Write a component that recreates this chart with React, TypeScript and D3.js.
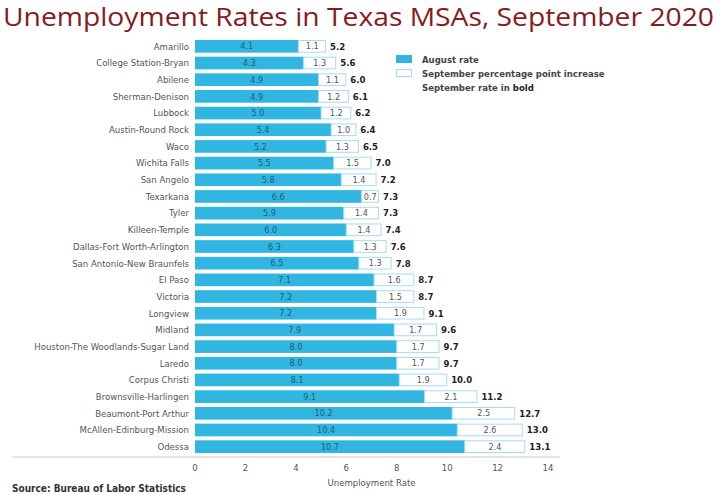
import React from "react";
import * as d3 from "d3";

const categories = [
  "Amarillo",
  "College Station-Bryan",
  "Abilene",
  "Sherman-Denison",
  "Lubbock",
  "Austin-Round Rock",
  "Waco",
  "Wichita Falls",
  "San Angelo",
  "Texarkana",
  "Tyler",
  "Killeen-Temple",
  "Dallas-Fort Worth-Arlington",
  "San Antonio-New Braunfels",
  "El Paso",
  "Victoria",
  "Longview",
  "Midland",
  "Houston-The Woodlands-Sugar Land",
  "Laredo",
  "Corpus Christi",
  "Brownsville-Harlingen",
  "Beaumont-Port Arthur",
  "McAllen-Edinburg-Mission",
  "Odessa",
];

const augustRate = [4.1, 4.3, 4.9, 4.9, 5.0, 5.4, 5.2, 5.5, 5.8, 6.6, 5.9, 6.0, 6.3, 6.5, 7.1, 7.2, 7.2, 7.9, 8.0, 8.0, 8.1, 9.1, 10.2, 10.4, 10.7];
const septIncrease = [1.1, 1.3, 1.1, 1.2, 1.2, 1.0, 1.3, 1.5, 1.4, 0.7, 1.4, 1.4, 1.3, 1.3, 1.6, 1.5, 1.9, 1.7, 1.7, 1.7, 1.9, 2.1, 2.5, 2.6, 2.4];
const septRate = [5.2, 5.6, 6.0, 6.1, 6.2, 6.4, 6.5, 7.0, 7.2, 7.3, 7.3, 7.4, 7.6, 7.8, 8.7, 8.7, 9.1, 9.6, 9.7, 9.7, 10.0, 11.2, 12.7, 13.0, 13.1];

const xTicks = [0, 2, 4, 6, 8, 10, 12, 14];

const W = 720;
const H = 495;
const FONT = "'DejaVu Sans Condensed', 'Liberation Sans Narrow', 'Roboto', sans-serif";
const BLUE = "#30b6e0";
const LIGHTBLUE = "#a6dcef";

export default function App() {
  const x = d3.scaleLinear().domain([0, 14]).range([195, 548]);
  const y = d3
    .scaleBand<string>()
    .domain(categories)
    .range([38, 455])
    .paddingInner(0.24)
    .paddingOuter(0.12);
  const bh = y.bandwidth();

  return (
    <svg
      width={W}
      height={H}
      style={{ position: "absolute", left: 0, top: 0, background: "#fff" }}
    >
      <text
        x={3}
        y={26}
        fontFamily="'Open Sans', sans-serif"
        fontSize={25}
        fill="#861b22"
        textLength={711}
        lengthAdjust="spacingAndGlyphs"
      >
        Unemployment Rates in Texas MSAs, September 2020
      </text>

      {categories.map((c, i) => {
        const yy = y(c)!;
        const cy = yy + bh / 2;
        const a = augustRate[i];
        const inc = septIncrease[i];
        return (
          <g key={c}>
            <text
              x={189}
              y={cy}
              dy="0.35em"
              textAnchor="end"
              fontFamily={FONT}
              fontSize={9.5}
              fill="#555"
            >
              {c}
            </text>
            <rect x={x(0)} y={yy} width={x(a) - x(0)} height={bh} fill={BLUE} />
            <rect
              x={x(a)}
              y={yy + 0.5}
              width={x(a + inc) - x(a) - 0.5}
              height={bh - 1}
              fill="#fff"
              stroke={LIGHTBLUE}
              strokeWidth={1}
            />
            <text
              x={(x(0) + x(a)) / 2}
              y={cy}
              dy="0.35em"
              textAnchor="middle"
              fontFamily={FONT}
              fontSize={9}
              fill="#1d5f78"
            >
              {a.toFixed(1)}
            </text>
            <text
              x={(x(a) + x(a + inc)) / 2}
              y={cy}
              dy="0.35em"
              textAnchor="middle"
              fontFamily={FONT}
              fontSize={9}
              fill="#555"
            >
              {inc.toFixed(1)}
            </text>
            <text
              x={x(a + inc) + 4}
              y={cy}
              dy="0.35em"
              fontFamily={FONT}
              fontSize={9.5}
              fontWeight="bold"
              fill="#222"
            >
              {septRate[i].toFixed(1)}
            </text>
          </g>
        );
      })}

      <line x1={12} x2={560} y1={457} y2={457} stroke="#ddd" strokeWidth={1.5} />

      {xTicks.map((t) => (
        <text
          key={t}
          x={x(t)}
          y={468}
          dy="0.35em"
          textAnchor="middle"
          fontFamily={FONT}
          fontSize={9.5}
          fill="#555"
        >
          {t}
        </text>
      ))}
      <text
        x={(x(0) + x(14)) / 2}
        y={486}
        textAnchor="middle"
        fontFamily={FONT}
        fontSize={9.5}
        fill="#555"
      >
        Unemployment Rate
      </text>

      <text x={12} y={492} fontFamily={FONT} fontSize={10} fontWeight="bold" fill="#333">
        Source: Bureau of Labor Statistics
      </text>

      <rect x={396} y={55} width={16} height={8} fill={BLUE} />
      <rect x={396.5} y={69.5} width={15} height={7} fill="#fff" stroke={LIGHTBLUE} strokeWidth={1} />
      <text x={422} y={63} fontFamily={FONT} fontSize={9.5} fontWeight="bold" fill="#444">
        August rate
      </text>
      <text x={422} y={77} fontFamily={FONT} fontSize={9.5} fontWeight="bold" fill="#444">
        September percentage point increase
      </text>
      <text x={422} y={91} fontFamily={FONT} fontSize={9.5} fill="#444" fontWeight={600}>
        September rate in <tspan fontWeight="bold" fill="#222">bold</tspan>
      </text>
    </svg>
  );
}
